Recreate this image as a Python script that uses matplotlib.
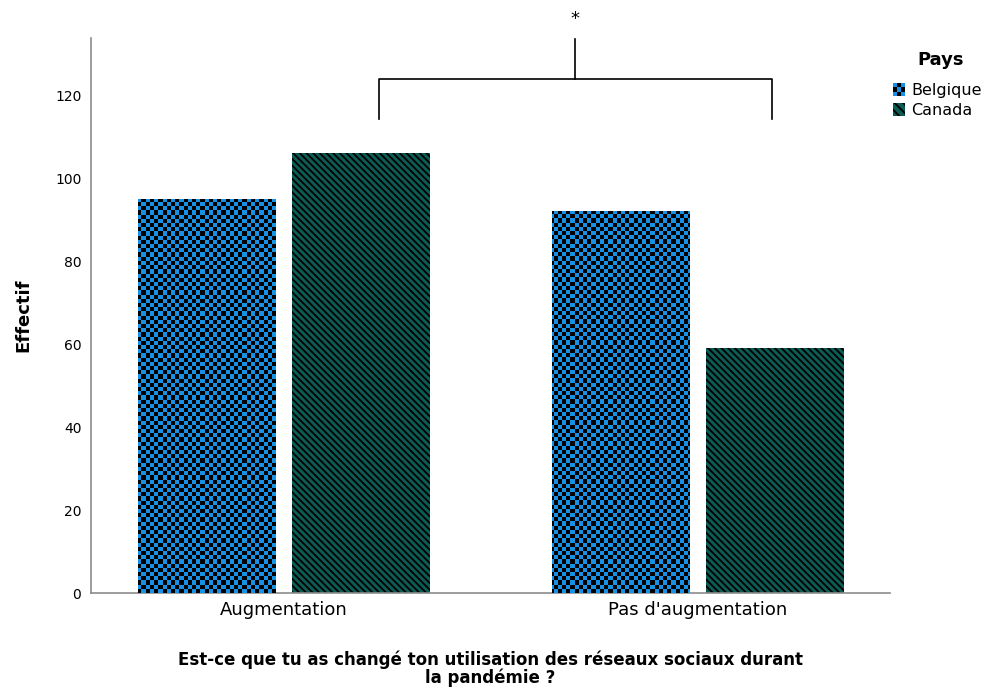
import numpy as np
import matplotlib
matplotlib.use("Agg")
import matplotlib.pyplot as plt
from matplotlib.patches import Rectangle, Patch
from matplotlib.legend_handler import HandlerBase

# counts per answer and country
categories = ["Augmentation", "Pas d'augmentation"]
countries = ["Belgique", "Canada"]
belgique = [95, 92]
canada = [106, 59]
yticks = [0, 20, 40, 60, 80, 100, 120]

blue = "#1592e6"
teal = "#0b5c54"
spine_col = "#8c8c8c"
stripes = "\\" * 5

plt.rcParams["hatch.linewidth"] = 1.3

fig = plt.figure(figsize=(9.95, 6.91), dpi=100)
ax = fig.add_axes([0.0915, 0.1418, 0.803, 0.803])

x = np.arange(len(categories))
w = 0.333
off = 0.186

ax.set_xlim(-0.466, 1.464)
ax.set_ylim(0, 133.8)

bars_b = ax.bar(x - off, belgique, w, color=blue, edgecolor="none", zorder=2)
bars_c = ax.bar(x + off, canada, w, facecolor=teal, edgecolor="black",
                linewidth=0, hatch=stripes, zorder=2)

# checkerboard texture for Belgique: one full-axes image clipped to each bar
cell = 4.2
ax_w = 0.803 * 995
ax_h = 0.803 * 691
ncol = int(round(ax_w / cell))
nrow = int(round(ax_h / cell))
ii, jj = np.meshgrid(np.arange(ncol), np.arange(nrow))
checker = (ii + jj) % 2
rgb = np.zeros((nrow, ncol, 3))
rgb[checker == 0] = matplotlib.colors.to_rgb(blue)
for bar in bars_b:
    im = ax.imshow(rgb, extent=[*ax.get_xlim(), *ax.get_ylim()],
                   interpolation="nearest", aspect="auto", zorder=3,
                   origin="lower")
    im.set_clip_path(bar)
ax.set_xlim(-0.466, 1.464)
ax.set_ylim(0, 133.8)

for s in ["top", "right"]:
    ax.spines[s].set_visible(False)
for s in ["left", "bottom"]:
    ax.spines[s].set_color(spine_col)
    ax.spines[s].set_linewidth(1.2)

ax.set_yticks(yticks)
ax.set_xticks(x)
ax.set_xticklabels(categories, fontsize=13)
ax.tick_params(axis="y", length=0, pad=7, labelsize=10)
ax.tick_params(axis="x", length=0, pad=6)
ax.set_ylabel("Effectif", fontsize=13, fontweight="bold", labelpad=16)

fig.text(0.4925, 0.032,
         "Est-ce que tu as changé ton utilisation des réseaux sociaux durant\nla pandémie ?",
         ha="center", va="center", fontsize=12, fontweight="bold",
         linespacing=1.0)

# significance bracket between the two answers
br_x = [0.229, 1.179]
br_low, br_high, br_top = 114.2, 123.9, 133.7
mid = (br_x[0] + br_x[1]) / 2
ax.plot([br_x[0], br_x[0], br_x[1], br_x[1]],
        [br_low, br_high, br_high, br_low],
        color="black", lw=1.2, clip_on=False, zorder=4)
ax.plot([mid, mid], [br_high, br_top], color="black", lw=1.2,
        clip_on=False, zorder=4)
ax.text(mid, 138.3, "*", ha="center", va="center", fontsize=13)


class CheckerHandler(HandlerBase):
    def create_artists(self, legend, orig_handle, xdescent, ydescent,
                       width, height, fontsize, trans):
        n = 3
        c = height / n
        x0 = -xdescent
        y0 = -ydescent
        arts = []
        for i in range(n):
            for j in range(n):
                col = "black" if (i + j) % 2 else blue
                arts.append(Rectangle((x0 + i * c, y0 + j * c), c, c,
                                      facecolor=col, edgecolor="none",
                                      transform=trans))
        return arts


class SquareHandler(HandlerBase):
    def create_artists(self, legend, orig_handle, xdescent, ydescent,
                       width, height, fontsize, trans):
        r = Rectangle((-xdescent, -ydescent), height, height,
                      facecolor=teal, edgecolor="black", linewidth=0,
                      hatch="\\" * 4, transform=trans)
        return [r]


fig.text(0.945, 1 - 60 / 691, "Pays", ha="center", va="center",
         fontsize=13, fontweight="bold")

h_b = Patch(facecolor=blue)
h_c = Patch(facecolor=teal)
leg = fig.legend([h_b, h_c], countries, loc="upper left",
                 bbox_to_anchor=(0.897, 1 - 83 / 691), frameon=False,
                 fontsize=11.5,
                 handler_map={h_b: CheckerHandler(), h_c: SquareHandler()},
                 handlelength=0.85, handleheight=0.85, handletextpad=0.3,
                 labelspacing=0.3, borderaxespad=0, borderpad=0)

fig.savefig("out.png", dpi=100)
